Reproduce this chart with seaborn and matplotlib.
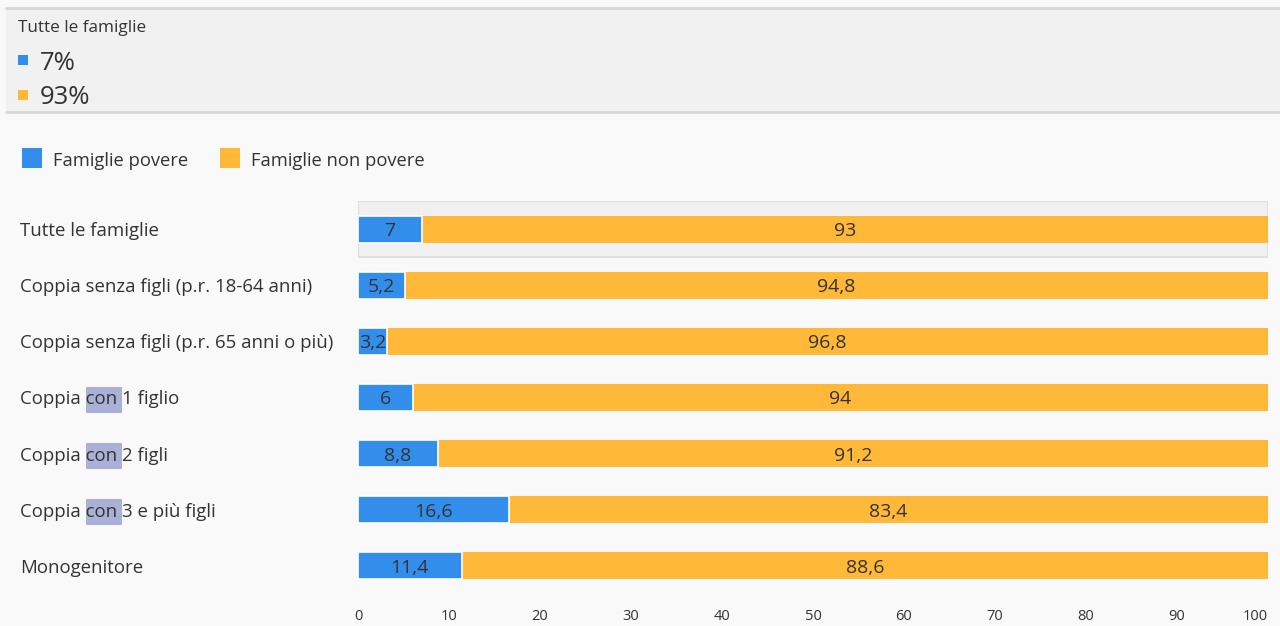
import matplotlib
matplotlib.use("Agg")
import matplotlib.pyplot as plt
import seaborn as sns
import pandas as pd
import numpy as np
from matplotlib.patches import Rectangle

categories = ["Tutte le famiglie", "Coppia senza figli (p.r. 18-64 anni)",
              "Coppia senza figli (p.r. 65 anni o più)", "Coppia con 1 figlio",
              "Coppia con 2 figli", "Coppia con 3 e più figli", "Monogenitore"]
povere = [7, 5.2, 3.2, 6, 8.8, 16.6, 11.4]
non_povere = [93, 94.8, 96.8, 94, 91.2, 83.4, 88.6]
xticks = [0, 10, 20, 30, 40, 50, 60, 70, 80, 90, 100]
series_names = ["Famiglie povere", "Famiglie non povere"]
summary_label = "Tutte le famiglie"
summary_values = ["7%", "93%"]

BLUE = "#338eeb"
ORANGE = "#ffb837"
BG = "#f9f9f9"
TXT = "#333333"
LABEL_FS = 13.4

sns.set_theme(style="white")
plt.rcParams["font.family"] = ["Open Sans", "DejaVu Sans"]

df = pd.DataFrame({"cat": categories, "povere": povere, "non_povere": non_povere})
df["total"] = df["povere"] + df["non_povere"]

W, H = 1280, 626
fig = plt.figure(figsize=(12.8, 6.26), dpi=100, facecolor=BG)
ax = fig.add_axes([358 / W, 1 - 594 / H, 910 / W, (594 - 201) / H])
ax.set_facecolor(BG)

# highlighted first row
ax.axhspan(-0.5, 0.5, xmin=0, xmax=1, facecolor="#f0f0f0", edgecolor="#dcdcdc", lw=1.2, zorder=0)

sns.barplot(data=df, x="total", y="cat", orient="h", color=ORANGE, width=0.48,
            saturation=1, ax=ax, zorder=2, edgecolor="none")
sns.barplot(data=df, x="povere", y="cat", orient="h", color=BLUE, width=0.48,
            saturation=1, ax=ax, zorder=3, edgecolor="white", linewidth=1.2)

def fmt(v):
    return ("%g" % v).replace(".", ",")

for i, (p, n) in enumerate(zip(povere, non_povere)):
    ax.text(p / 2, i, fmt(p), ha="center", va="center_baseline", fontsize=14, color=TXT, zorder=5)
    ax.text(p + n / 2, i, fmt(n), ha="center", va="center_baseline", fontsize=14, color=TXT, zorder=5)

ax.set_xlim(0, 100)
ax.set_ylim(6.5, -0.5)
ax.set_xticks(xticks)
ax.set_xticklabels([str(t) for t in xticks], fontsize=10.5, color=TXT)
ax.tick_params(axis="x", length=0, pad=11)
ax.get_xticklabels()[-1].set_horizontalalignment("right")
ax.set_yticks(range(len(categories)))
ax.set_yticklabels(categories, fontsize=LABEL_FS, color=TXT)
ax.tick_params(axis="y", length=0, pad=338 * 72 / 100)
for lab in ax.get_yticklabels():
    lab.set_horizontalalignment("left")
    lab.set_verticalalignment("center_baseline")
ax.set_xlabel("")
ax.set_ylabel("")
for s in ax.spines.values():
    s.set_visible(False)

# top summary panel
fig.patches.append(Rectangle((6 / W, 1 - 112 / H), 1 - 6 / W, 104 / H, transform=fig.transFigure,
                             facecolor="#f1f1f1", edgecolor="none", zorder=0))
for yy in (8, 112):
    fig.add_artist(plt.Line2D([6 / W, 1], [1 - yy / H, 1 - yy / H], transform=fig.transFigure,
                              color="#d6d6d6", lw=2))
fig.text(18 / W, 1 - 26 / H, summary_label, fontsize=12.3, color=TXT, va="center_baseline", ha="left")
for yy, col, val in zip((60, 95), (BLUE, ORANGE), summary_values):
    fig.patches.append(Rectangle((18 / W, 1 - (yy + 5) / H), 10 / W, 10 / H, transform=fig.transFigure,
                                 facecolor=col, edgecolor="none"))
    fig.text(40 / W, 1 - yy / H, val, fontsize=18.5, color=TXT, va="center_baseline", ha="left")

# legend
for x0, col, name in zip((22, 220), (BLUE, ORANGE), series_names):
    fig.patches.append(Rectangle((x0 / W, 1 - 168 / H), 20 / W, 20 / H, transform=fig.transFigure,
                                 facecolor=col, edgecolor="none"))
    fig.text((x0 + 31) / W, 1 - 159 / H, name, fontsize=13.2, color=TXT, va="center_baseline", ha="left")

# selection highlight behind "con" in three labels
fig.canvas.draw()
renderer = fig.canvas.get_renderer()
for lab in ax.get_yticklabels():
    t = lab.get_text()
    if "con " in t and "senza" not in t:
        bb = lab.get_window_extent(renderer)
        pre = fig.text(0, 0, "Coppia ", fontsize=LABEL_FS)
        pre_w = pre.get_window_extent(renderer).width
        mid = fig.text(0, 0, "Coppia con ", fontsize=LABEL_FS)
        mid_w = mid.get_window_extent(renderer).width
        pre.remove(); mid.remove()
        x0 = bb.x0 + pre_w
        x1 = bb.x0 + mid_w
        yc = (bb.y0 + bb.y1) / 2
        fig.patches.append(Rectangle((x0 / W, (yc - 13) / H), (x1 - x0) / W, 26 / H,
                                     transform=fig.transFigure, facecolor="#aab0d6",
                                     edgecolor="none", zorder=-1))
        lab.set_zorder(5)

fig.savefig("out.png", dpi=100, facecolor=BG)
